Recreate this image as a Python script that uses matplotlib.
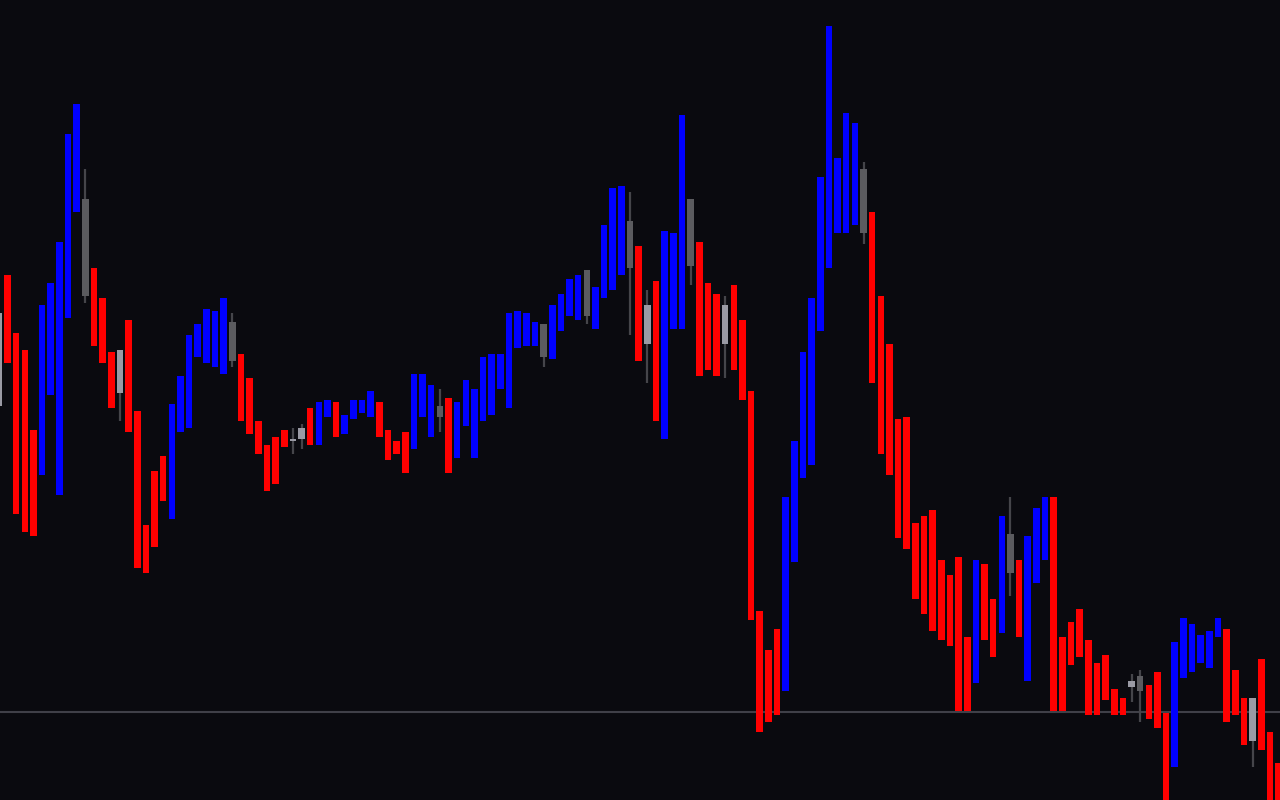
import matplotlib
matplotlib.use("Agg")
import matplotlib.pyplot as plt
import numpy as np

# Bar kinds: U = up (blue), D = down (red), G = dark-gray doji, L = light-gray doji
kinds = list(
    "LDDDDUUUUUGDDDLDDDDDUUUUUUUGDDDDDDLLDUUDUUUUDDDDUUUGDUUUUUUUUUUGUUUUGUUUUGDLDUUUGDDDLDDDDDDUUUUUUUUUGDDDDDDDDDDDDUDDUGDUUUDDDDDDDDDLGDDDUUUUUUDDDLDDD"
)

# Body top / bottom and wick high / low (price units, 0..800 scale)
body_top_y = [313,275,333,350,430,305,283,242,134,104,199,268,298,352,350,320,411,525,471,456,
              404,376,335,324,309,311,298,322,354,378,421,445,437,430,439,428,408,402,400,402,
              415,400,400,391,402,430,441,432,374,374,385,406,398,402,380,389,357,354,354,313,
              311,313,322,324,305,294,279,275,270,287,225,188,186,221,246,305,281,231,233,115,
              199,242,283,294,305,285,320,391,611,650,629,497,441,352,298,177,26,158,113,123,
              169,212,296,344,419,417,523,516,510,560,575,557,637,560,564,599,516,534,560,536,
              508,497,497,637,622,609,640,663,655,689,698,681,676,685,672,713,642,618,624,635,
              631,618,629,670,698,698,659,732,763]
body_bot_y = [406,363,514,532,536,475,395,495,318,212,296,346,363,408,393,432,568,573,547,501,
              519,432,428,357,363,367,374,361,421,434,454,491,484,447,441,439,445,445,417,437,
              434,419,413,417,437,460,454,473,449,417,437,417,473,458,426,458,421,415,389,408,
              348,346,346,357,359,331,316,320,316,329,298,290,275,268,361,344,421,439,329,329,
              266,376,370,376,344,370,400,620,732,722,715,691,562,478,465,331,268,233,233,225,
              233,383,454,475,538,549,599,614,631,640,646,711,711,683,640,657,633,573,637,681,
              583,560,711,711,665,657,715,715,700,715,715,687,691,719,728,805,767,678,672,663,
              668,637,722,715,745,741,750,805,805]
# Wicks only for the gray doji bars: index -> (wick top, wick bottom)
wicks = {0: (313, 406), 10: (169, 303), 14: (350, 421), 27: (313, 367), 34: (428, 454),
         35: (424, 449), 51: (389, 432), 63: (324, 367), 68: (270, 324), 73: (192, 335),
         75: (290, 383), 80: (199, 285), 84: (296, 378), 100: (162, 244), 117: (497, 596),
         131: (674, 702), 132: (670, 722), 145: (698, 767)}
price_line_y = 711.5

H = 800.0
body_top = [H - v for v in body_top_y]
body_bot = [H - v for v in body_bot_y]
price_line = H - price_line_y

colors = {"U": "#0000ff", "D": "#ff0000", "G": "#5b5b5f", "L": "#9a9aa4"}
wick_color = "#45454a"
bg = "#0a0a0f"

n = len(body_top)
x = np.arange(n)

fig = plt.figure(figsize=(12.8, 8), dpi=100, facecolor=bg)
ax = fig.add_axes([0, 0, 1, 1], facecolor=bg)

ax.axhline(price_line, color="#404048", lw=1.5, zorder=1)

for i, (lo_y, hi_y) in wicks.items():
    ax.vlines(x[i], H - hi_y, H - lo_y, color=wick_color, lw=1.6, zorder=2)

heights = [t - b for t, b in zip(body_top, body_bot)]
heights = [h if h > 1.5 else 1.8 for h in heights]
bar_colors = [colors[k] for k in kinds[:n]]
ax.bar(x, heights, bottom=body_bot, width=0.76, color=bar_colors, linewidth=0, zorder=3)

ax.set_xlim(0.127, 0.127 + 1280 / 8.646)
ax.set_ylim(0, H)
ax.axis("off")

fig.savefig("out.png", dpi=100, facecolor=bg)
